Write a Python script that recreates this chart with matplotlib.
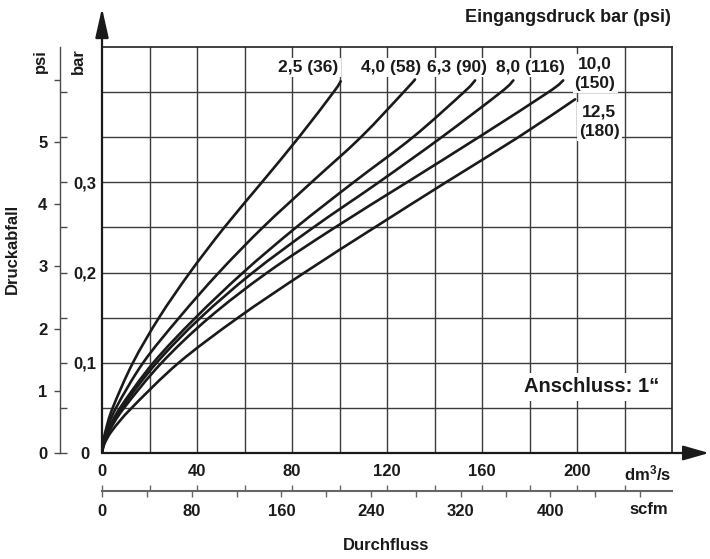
import matplotlib
matplotlib.use("Agg")
import matplotlib.pyplot as plt
from matplotlib.path import Path
from matplotlib.patches import PathPatch
import numpy as np

plt.rcParams['font.family'] = ['Liberation Sans', 'DejaVu Sans']
plt.rcParams['font.weight'] = 'bold'
plt.rcParams['mathtext.fontset'] = 'custom'
plt.rcParams['mathtext.rm'] = 'Liberation Sans:bold'
plt.rcParams['mathtext.bf'] = 'Liberation Sans:bold'
plt.rcParams['mathtext.default'] = 'rm'

# ---------------- data (flow dm3/s, pressure drop bar) ----------------
c25_x  = [0, 0.4, 1.55, 4.5, 13.0, 24.0, 37.0, 51.5, 67.3, 82.9, 97.5, 100.5]
c25_y  = [0, 0.01, 0.025, 0.05, 0.10, 0.15, 0.20, 0.25, 0.30, 0.35, 0.40, 0.412]
c40_x  = [0, 0.5, 2.0, 5.9, 17.3, 32.5, 49.2, 67.7, 88.2, 109.0, 127.0, 131.8]
c40_y  = [0, 0.01, 0.025, 0.05, 0.10, 0.15, 0.20, 0.25, 0.30, 0.35, 0.40, 0.414]
c63_x  = [0, 0.6, 2.6, 7.6, 21.6, 39.4, 59.4, 81.7, 105.9, 130.9, 152.4, 157.1]
c63_y  = [0, 0.01, 0.025, 0.05, 0.10, 0.15, 0.20, 0.25, 0.30, 0.35, 0.40, 0.413]
c80_x  = [0, 0.7, 2.9, 8.3, 23.0, 41.5, 63.5, 89.0, 116.5, 143.0, 168.0, 173.2]
c80_y  = [0, 0.01, 0.025, 0.05, 0.10, 0.15, 0.20, 0.25, 0.30, 0.35, 0.40, 0.413]
c100_x = [0, 0.8, 3.2, 9.3, 25.1, 45.1, 69.6, 98.1, 128.4, 158.6, 188.0, 194.2]
c100_y = [0, 0.01, 0.025, 0.05, 0.10, 0.15, 0.20, 0.25, 0.30, 0.35, 0.40, 0.413]
c125_x = [0, 1.0, 4.3, 12.5, 32.3, 57.3, 85.3, 114.8, 144.8, 175.3, 199.2]
c125_y = [0, 0.01, 0.025, 0.05, 0.10, 0.15, 0.20, 0.25, 0.30, 0.35, 0.392]

curve_labels = ["2,5 (36)", "4,0 (58)", "6,3 (90)", "8,0 (116)", "10,0\n(150)", "12,5\n(180)"]

x_ticks_dm = [0, 40, 80, 120, 160, 200]
x_ticks_scfm = [0, 80, 160, 240, 320, 400]
y_ticks_psi = [0, 1, 2, 3, 4, 5]
y_tick_bar_labels = ["0", "", "0,1", "", "0,2", "", "0,3", "", ""]

X_MAX = 240.0      # dm3/s
Y_MAX = 0.45       # bar
BAR_TO_PSI = 14.5038
DM_TO_SCFM = 2.11888

W, H = 710, 559
def fx(px): return px / W
def fy(py): return 1 - py / H

INK = '#1a1a1a'
fig = plt.figure(figsize=(W / 100, H / 100), dpi=100)
fig.patch.set_facecolor('white')

L, R, T, B = 102, 672, 47, 453
ax = fig.add_axes([fx(L), fy(B), (R - L) / W, (B - T) / H])
ax.set_xlim(0, X_MAX)
ax.set_ylim(0, Y_MAX)
for s in ['left', 'bottom']:
    ax.spines[s].set_visible(False)
for s in ['top', 'right']:
    ax.spines[s].set_linewidth(1.2)
    ax.spines[s].set_color('#222222')

# grid
for gx in np.arange(20, X_MAX, 20):
    ax.axvline(gx, color='#3c3c3c', lw=1.0, zorder=1)
for gy in np.arange(0.05, Y_MAX, 0.05):
    ax.axhline(gy, color='#3c3c3c', lw=1.0, zorder=1)


def smooth_path(xs, ys):
    """Bezier path (Catmull-Rom control points) through the read points."""
    P = np.column_stack([xs, ys]).astype(float)
    n = len(P)
    verts = [P[0]]
    codes = [Path.MOVETO]
    for i in range(n - 1):
        p0 = P[i - 1] if i > 0 else P[i]
        p1, p2 = P[i], P[i + 1]
        p3 = P[i + 2] if i + 2 < n else P[i + 1]
        c1 = p1 + (p2 - p0) / 6.0
        c2 = p2 - (p3 - p1) / 6.0
        verts += [c1, c2, p2]
        codes += [Path.CURVE4] * 3
    return Path(verts, codes)


for cx, cy in [(c25_x, c25_y), (c40_x, c40_y), (c63_x, c63_y),
               (c80_x, c80_y), (c100_x, c100_y), (c125_x, c125_y)]:
    ax.add_patch(PathPatch(smooth_path(cx, cy), fc='none', ec=INK, lw=1.9,
                           zorder=3, capstyle='round', joinstyle='round'))

# curve labels (positions in data coords)
lab_pos = [(87.0, 0.427), (121.7, 0.427), (149.5, 0.427), (180.6, 0.427),
           (207.6, 0.4206), (209.3, 0.3674)]
bb = dict(boxstyle='square,pad=0.12', fc='white', ec='none')
for (lx, ly), txt in zip(lab_pos, curve_labels):
    ax.text(lx, ly, txt, ha='center', va='center', fontsize=12.5,
            fontweight='bold', linespacing=1.4, bbox=bb, zorder=4, color=INK)

ax.text(206.1, 0.0732, "Anschluss: 1“", ha='center', va='center',
        fontsize=14.5, fontweight='bold', color=INK,
        bbox=dict(boxstyle='square,pad=0.22', fc='white', ec='none'), zorder=4)

# x tick labels (dm3/s)
ax.set_xticks(x_ticks_dm)
ax.set_xticklabels([str(v) for v in x_ticks_dm])
ax.set_yticks([])
ax.tick_params(axis='x', length=0, pad=8.0, labelsize=12, colors=INK)
for lbl in ax.get_xticklabels():
    lbl.set_fontweight('bold')

# axis arrows
ax.annotate('', xy=(0, 1 + (T - 8) / (B - T)), xytext=(0, 0),
            xycoords='axes fraction', textcoords='axes fraction',
            arrowprops=dict(arrowstyle='-|>,head_length=1.2,head_width=0.27',
                            mutation_scale=15, lw=1.6, color=INK,
                            shrinkA=0, shrinkB=0), annotation_clip=False)
ax.annotate('', xy=(1 + (709 - R) / (R - L), 0), xytext=(0, 0),
            xycoords='axes fraction', textcoords='axes fraction',
            arrowprops=dict(arrowstyle='-|>,head_length=1.05,head_width=0.3',
                            mutation_scale=15, lw=1.6, color=INK,
                            shrinkA=0, shrinkB=0), annotation_clip=False)

# left psi / bar axis
axp = fig.add_axes([fx(60), fy(B), 0.0001, (B - T) / H])
axp.set_ylim(0, Y_MAX * BAR_TO_PSI)
axp.set_xticks([])
for s in ['top', 'right', 'bottom']:
    axp.spines[s].set_visible(False)
axp.spines['left'].set_color('#4a4a4a')
axp.spines['left'].set_linewidth(1.0)
axp.set_yticks(y_ticks_psi + [6])
axp.set_yticklabels([str(v) for v in y_ticks_psi] + [""])
axp.tick_params(axis='y', direction='out', length=4, width=1.0, color='#4a4a4a',
                pad=5, labelsize=12, labelcolor=INK)
for lbl in axp.get_yticklabels():
    lbl.set_fontweight('bold')
axb = axp.twinx()
axb.set_ylim(0, Y_MAX)
for s in ['top', 'left', 'bottom', 'right']:
    axb.spines[s].set_visible(False)
axb.set_yticks(list(np.arange(0, 0.4001, 0.05)))
axb.set_yticklabels(y_tick_bar_labels)
axb.tick_params(axis='y', direction='out', length=5, width=1.0, color='#4a4a4a',
                pad=13, labelsize=12, labelcolor=INK)
for lbl in axb.get_yticklabels():
    lbl.set_fontweight('bold')
    lbl.set_horizontalalignment('center')

# bottom scfm axis
axs = fig.add_axes([fx(L), fy(491), (R - L) / W, 0.0001])
axs.set_xlim(0, X_MAX * DM_TO_SCFM)
axs.set_yticks([])
for s in ['top', 'left', 'right']:
    axs.spines[s].set_visible(False)
axs.spines['bottom'].set_color('#666666')
axs.spines['bottom'].set_linewidth(1.5)
axs.set_xticks(list(np.arange(0, 481, 40)))
axs.set_xticklabels([str(v) if v in x_ticks_scfm else "" for v in range(0, 481, 40)])
axs.tick_params(axis='x', direction='out', length=4, width=1.0, color='#666666',
                pad=5, labelsize=12, labelcolor=INK)
for lbl in axs.get_xticklabels():
    lbl.set_fontweight('bold')
axs2 = axs.twiny()
axs2.set_xlim(0, X_MAX)
for s in ['top', 'left', 'right', 'bottom']:
    axs2.spines[s].set_visible(False)
axs2.set_xticks(list(np.arange(0, X_MAX, 20)))
axs2.set_xticklabels([])
axs2.tick_params(axis='x', direction='out', length=4, width=1.0, color='#666666')

# texts
fig.text(fx(671), fy(473), r"dm$^{3}$/s", ha='right', va='center', fontsize=12,
         fontweight='bold', color=INK)
fig.text(fx(668), fy(510), "scfm", ha='right', va='center', fontsize=12,
         fontweight='bold', color=INK)
fig.text(fx(386), fy(545), "Durchfluss", ha='center', va='center', fontsize=12,
         fontweight='bold', color=INK)
fig.text(fx(671), fy(17), "Eingangsdruck bar (psi)", ha='right', va='center',
         fontsize=13, fontweight='bold', color=INK)
fig.text(fx(40), fy(61), "psi", ha='center', va='center', rotation=90,
         fontsize=12, fontweight='bold', color=INK)
fig.text(fx(78), fy(61), "bar", ha='center', va='center', rotation=90,
         fontsize=12, fontweight='bold', color=INK)
fig.text(fx(12), fy(249), "Druckabfall", ha='center', va='center', rotation=90,
         fontsize=12, fontweight='bold', color=INK)

fig.savefig("out.png", dpi=100, facecolor='white')
